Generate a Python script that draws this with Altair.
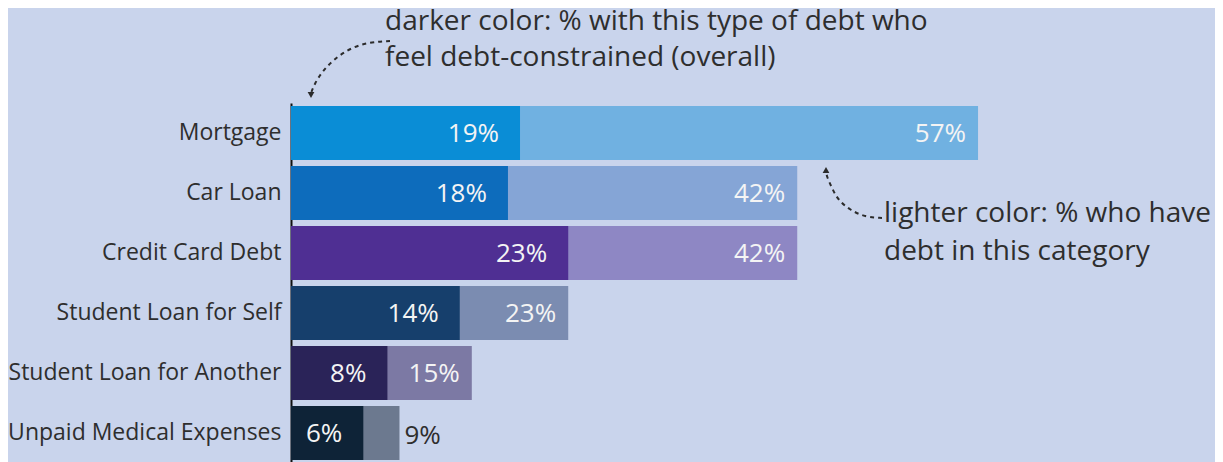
import altair as alt
import pandas as pd

# ---- data ----
categories = ["Mortgage", "Car Loan", "Credit Card Debt", "Student Loan for Self",
              "Student Loan for Another", "Unpaid Medical Expenses"]
constrained = [19, 18, 23, 14, 8, 6]      # darker color: % who feel debt-constrained
have_debt = [57, 42, 42, 23, 15, 9]       # lighter color: % who have debt in category
dark_colors = ["#0a8dd6", "#0d6cbc", "#4f2f93", "#163f6c", "#2a2358", "#0e2337"]
light_colors = ["#70b1e1", "#85a5d6", "#8e87c4", "#7b8cb1", "#7c79a4", "#6c798f"]

note_dark = ["darker color: % with this type of debt who", "feel debt-constrained (overall)"]
note_light = ["lighter color: % who have", "debt in this category"]

# annotation arrow paths (pixel space of plot area)
arrow1_x = [99, 79, 59, 42, 31, 24, 20]
arrow1_y = [-62, -61, -55, -43, -31, -20, -10]
arrow2_x = [591, 574, 559, 547, 541, 536, 535]
arrow2_y = [115, 114, 107, 97, 85, 74, 69]

W, H = 904, 360
FONT = "Open Sans"
TXT = "#2e2e2e"

df = pd.DataFrame({
    "cat": categories,
    "dark": constrained,
    "light": have_debt,
    "dc": dark_colors,
    "lc": light_colors,
})
df["dark_lbl"] = df["dark"].astype(str) + "%"
df["light_lbl"] = df["light"].astype(str) + "%"
df["inside"] = df["light"] >= 12

xs = alt.Scale(domain=[0, 75], nice=False, zero=True)
y_enc = alt.Y("cat:N", sort=categories,
              scale=alt.Scale(paddingInner=0.1, paddingOuter=0.05),
              axis=alt.Axis(title=None, ticks=False, labelPadding=10, labelFontSize=23,
                            labelFont=FONT, labelColor=TXT, domainColor="#111111",
                            domainWidth=2, labelLimit=400, grid=False))

base = alt.Chart(df)

light_bars = base.mark_bar().encode(
    x=alt.X("light:Q", scale=xs, axis=None),
    y=y_enc,
    color=alt.Color("lc:N", scale=None),
)
dark_bars = base.mark_bar().encode(
    x=alt.X("dark:Q", scale=xs, axis=None),
    y=y_enc,
    color=alt.Color("dc:N", scale=None),
)
dark_text = base.mark_text(align="right", baseline="middle", dx=-21, dy=1, fontSize=26,
                           font=FONT, color="#f4f4f4").encode(
    x=alt.X("dark:Q", scale=xs, axis=None), y=y_enc, text="dark_lbl:N")
light_text_in = base.transform_filter("datum.inside").mark_text(
    align="right", baseline="middle", dx=-12, dy=1, fontSize=26, font=FONT, color="#f4f4f4").encode(
    x=alt.X("light:Q", scale=xs, axis=None), y=y_enc, text="light_lbl:N")
light_text_out = base.transform_filter("!datum.inside").mark_text(
    align="left", baseline="middle", dx=5, dy=3, fontSize=26, font=FONT, color=TXT).encode(
    x=alt.X("light:Q", scale=xs, axis=None), y=y_enc, text="light_lbl:N")

main = alt.layer(light_bars, dark_bars, dark_text, light_text_in, light_text_out)

# ---- annotations ----
ann_df = pd.DataFrame({"k": [0]})
t1 = alt.Chart(ann_df).mark_text(align="left", baseline="alphabetic", fontSize=28, font=FONT,
                                 color=TXT, lineHeight=36).encode(
    x=alt.value(94), y=alt.value(-73), text=alt.value(note_dark))
t2 = alt.Chart(ann_df).mark_text(align="left", baseline="alphabetic", fontSize=28, font=FONT,
                                 color=TXT, lineHeight=38).encode(
    x=alt.value(593), y=alt.value(119), text=alt.value(note_light))

px = alt.Scale(domain=[0, W], nice=False, zero=False)
py = alt.Scale(domain=[0, H], nice=False, zero=False, reverse=True)

arr_df = pd.DataFrame({
    "ax": arrow1_x + arrow2_x,
    "ay": arrow1_y + arrow2_y,
    "arrow": ["a1"] * len(arrow1_x) + ["a2"] * len(arrow2_x),
    "o": list(range(len(arrow1_x))) + list(range(len(arrow2_x))),
})
lines = alt.Chart(arr_df).mark_line(interpolate="basis", strokeDash=[4, 4], strokeWidth=2,
                                    color="#2b2b2b").encode(
    x=alt.X("ax:Q", scale=px, axis=None),
    y=alt.Y("ay:Q", scale=py, axis=None),
    detail="arrow:N", order="o:Q")

heads_df = pd.DataFrame({"ax": [20, 535], "ay": [-8, 67],
                         "shape": ["triangle-down", "triangle-up"]})
heads = alt.Chart(heads_df).mark_point(filled=True, size=45, color="#2b2b2b", opacity=1).encode(
    x=alt.X("ax:Q", scale=px, axis=None),
    y=alt.Y("ay:Q", scale=py, axis=None),
    shape=alt.Shape("shape:N", scale=None))

chart = alt.layer(main, t1, t2, lines, heads).resolve_scale(
    x="independent", y="independent"
).properties(
    width=W, height=H,
    background="#c9d4ec",
    padding={"left": 283, "top": 95, "right": 20, "bottom": 0},
    autosize=alt.AutoSizeParams(type="none"),
).configure_view(stroke=None)

chart.save("out.html", embed_options={"renderer": "svg", "actions": False})
